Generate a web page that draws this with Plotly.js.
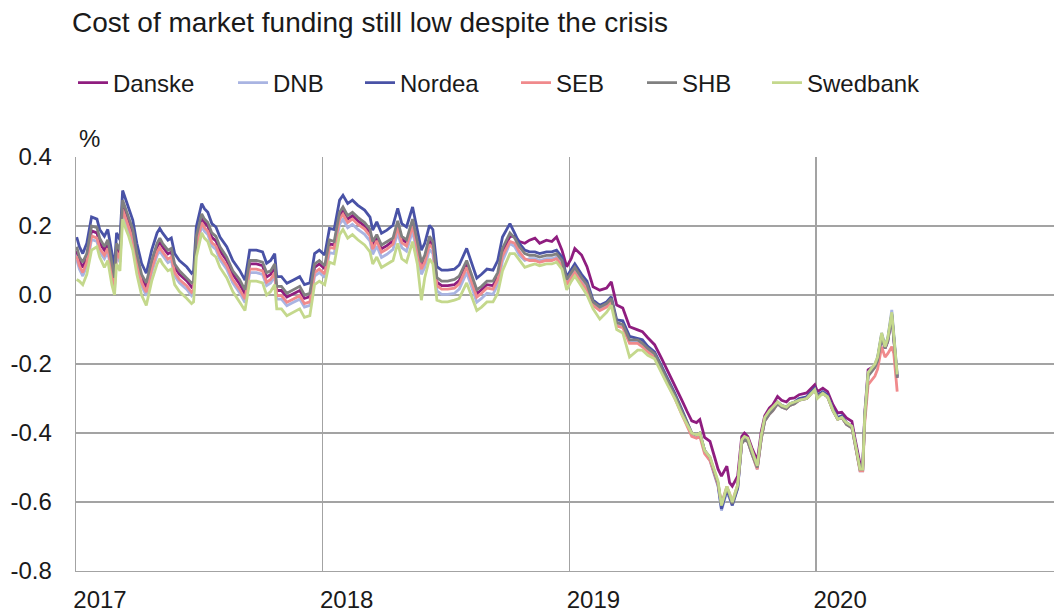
<!DOCTYPE html>
<html>
<head>
<meta charset="utf-8">
<script src="https://cdn.plot.ly/plotly-3.0.1.min.js"></script>
<style>html,body{margin:0;padding:0;background:#fff;}#chart{width:1054px;height:616px;}</style>
</head>
<body>
<div id="chart"></div>
<script>
// Dates as decimal years (read from the horizontal position of each point)
const t = [
 2017.003,2017.016,2017.028,2017.044,2017.065,2017.085,2017.097,2017.117,2017.130,2017.146,
 2017.158,2017.166,2017.179,2017.191,2017.203,2017.215,2017.231,2017.247,2017.267,2017.287,
 2017.308,2017.329,2017.341,2017.353,2017.373,2017.389,2017.401,2017.421,2017.450,2017.470,
 2017.478,2017.490,2017.511,2017.523,2017.535,2017.551,2017.568,2017.584,2017.612,2017.636,
 2017.664,2017.686,2017.706,2017.734,2017.758,2017.774,2017.790,2017.807,2017.815,2017.835,
 2017.855,2017.880,2017.908,2017.928,2017.949,2017.969,2017.989,2018.009,
 2018.029,2018.049,2018.071,2018.083,2018.103,2018.123,2018.143,2018.171,2018.192,2018.204,
 2018.220,2018.240,2018.261,2018.285,2018.305,2018.322,2018.342,2018.366,2018.386,2018.402,
 2018.414,2018.435,2018.448,2018.464,2018.484,2018.508,2018.536,2018.556,2018.585,2018.605,
 2018.625,2018.645,2018.666,2018.691,2018.711,2018.731,2018.759,2018.779,2018.799,2018.820,
 2018.840,2018.861,2018.881,2018.909,2018.929,2018.950,2018.970,2018.990,2019.010,2019.022,
 2019.051,2019.072,2019.096,2019.124,2019.152,2019.172,2019.193,2019.218,2019.246,
 2019.278,2019.298,2019.319,2019.347,2019.375,2019.399,2019.428,2019.457,2019.477,2019.497,
 2019.517,2019.529,2019.549,2019.570,2019.590,2019.603,2019.619,2019.639,2019.651,2019.663,2019.683,
 2019.700,2019.712,2019.724,2019.740,2019.752,2019.764,2019.780,2019.793,2019.813,2019.826,
 2019.846,2019.862,2019.882,2019.894,2019.914,2019.934,2019.963,2019.983,2019.996,2020.008,
 2020.028,2020.048,2020.069,2020.089,2020.105,2020.125,2020.145,2020.157,2020.169,2020.178,2020.190,
 2020.199,2020.211,2020.227,2020.239,2020.251,2020.267,2020.279,2020.291,2020.307,2020.315,2020.328
];

const danske = [
 .128,.10,.08,.11,.186,.18,.15,.13,.15,.08,
 .04,.14,.12,.263,.235,.215,.177,.11,.052,.023,
 .09,.14,.153,.14,.119,.125,.08,.06,.041,.023,
 .03,.157,.225,.21,.20,.167,.157,.128,.10,.06,
 .032,.003,.09,.09,.085,.052,.06,.08,.013,.013,
 -.006,.003,.013,-.01,-.005,.08,.09,.076,
 .148,.145,.23,.244,.22,.23,.215,.201,.181,.143,
 .167,.134,.143,.157,.206,.162,.152,.21,.143,.085,
 .105,.157,.145,.037,.027,.027,.03,.042,.09,.047,
 .004,.015,.03,.027,.055,.123,.17,.17,.155,.15,
 .159,.165,.15,.159,.155,.168,.13,.082,.107,.135,
 .116,.082,.024,.014,.02,.038,-.029,-.038,-.092,
 -.101,-.106,-.124,-.144,-.182,-.217,-.26,-.303,-.337,-.365,
 -.37,-.361,-.413,-.424,-.471,-.505,-.525,-.496,-.544,-.554,-.525,
 -.41,-.40,-.41,-.443,-.46,-.48,-.395,-.35,-.327,-.318,
 -.294,-.305,-.31,-.30,-.298,-.289,-.284,-.27,-.26,-.28,
 -.27,-.28,-.318,-.342,-.34,-.356,-.366,-.41,-.448,-.49,-.495,
 -.342,-.217,-.21,-.205,-.185,-.12,-.155,-.135,-.06,-.12,-.24
];

const dnb = [
 .103,.075,.055,.085,.161,.155,.125,.105,.125,.055,
 .015,.115,.095,.238,.21,.19,.152,.085,.027,-.002,
 .065,.115,.128,.115,.094,.10,.055,.035,.016,-.002,
 .005,.132,.20,.185,.175,.142,.132,.103,.075,.035,
 .007,-.022,.065,.065,.06,.027,.035,.055,-.012,-.012,
 -.031,-.022,-.012,-.035,-.03,.055,.065,.051,
 .123,.12,.205,.219,.195,.205,.19,.176,.156,.118,
 .142,.109,.118,.132,.181,.137,.127,.185,.118,.06,
 .08,.132,.12,.012,.002,.002,.005,.017,.065,.022,
 -.021,-.01,.005,.002,.03,.098,.15,.14,.115,.10,
 .105,.105,.10,.105,.105,.11,.09,.035,.055,.07,
 .04,.02,-.025,-.04,-.03,-.015,-.085,-.09,-.135,
 -.135,-.145,-.16,-.175,-.215,-.25,-.295,-.34,-.375,-.405,
 -.41,-.405,-.455,-.48,-.525,-.555,-.625,-.57,-.59,-.61,-.56,
 -.43,-.42,-.425,-.46,-.485,-.505,-.415,-.365,-.345,-.335,
 -.315,-.325,-.33,-.32,-.315,-.305,-.30,-.285,-.275,-.295,
 -.285,-.295,-.335,-.36,-.355,-.375,-.385,-.425,-.465,-.51,-.51,
 -.35,-.225,-.21,-.20,-.18,-.11,-.145,-.125,-.043,-.115,-.23
];

const nordea = [
 .168,.14,.12,.15,.226,.22,.19,.17,.19,.12,
 .08,.18,.16,.303,.275,.255,.217,.15,.092,.063,
 .13,.18,.193,.18,.159,.165,.12,.10,.081,.063,
 .07,.197,.265,.25,.24,.207,.197,.168,.14,.10,
 .072,.043,.13,.13,.125,.092,.10,.12,.053,.053,
 .034,.043,.053,.03,.035,.12,.13,.116,
 .193,.19,.275,.289,.265,.275,.26,.246,.226,.188,
 .212,.179,.188,.202,.251,.207,.197,.255,.188,.13,
 .15,.202,.19,.082,.072,.072,.075,.087,.135,.092,
 .049,.06,.075,.072,.10,.168,.207,.179,.15,.13,
 .125,.125,.12,.125,.125,.13,.11,.053,.075,.09,
 .06,.04,-.015,-.03,-.02,-.005,-.072,-.075,-.12,
 -.125,-.13,-.149,-.165,-.205,-.24,-.285,-.33,-.365,-.40,
 -.405,-.40,-.45,-.475,-.52,-.55,-.62,-.565,-.585,-.61,-.56,
 -.425,-.415,-.42,-.455,-.48,-.50,-.41,-.36,-.34,-.33,
 -.31,-.32,-.325,-.315,-.31,-.30,-.295,-.28,-.27,-.29,
 -.28,-.29,-.33,-.355,-.35,-.37,-.38,-.42,-.46,-.505,-.505,
 -.35,-.23,-.215,-.205,-.185,-.115,-.15,-.13,-.055,-.12,-.236
];

const seb = [
 .113,.085,.065,.095,.171,.165,.135,.115,.135,.065,
 .025,.125,.105,.248,.22,.20,.162,.095,.037,.008,
 .075,.125,.138,.125,.104,.11,.065,.045,.026,.008,
 .015,.142,.21,.195,.185,.152,.142,.113,.085,.045,
 .017,-.012,.075,.075,.07,.037,.045,.065,-.002,-.002,
 -.021,-.012,-.002,-.025,-.02,.065,.075,.061,
 .138,.135,.22,.234,.21,.22,.205,.191,.171,.133,
 .157,.124,.133,.147,.196,.152,.142,.20,.133,.075,
 .095,.147,.135,.027,.017,.017,.02,.032,.08,.037,
 -.006,.005,.02,.017,.045,.113,.155,.15,.125,.105,
 .10,.10,.095,.10,.10,.105,.085,.03,.05,.065,
 .035,.015,-.03,-.045,-.035,-.02,-.09,-.095,-.14,
 -.14,-.15,-.165,-.18,-.22,-.255,-.30,-.345,-.38,-.41,
 -.415,-.41,-.46,-.48,-.52,-.55,-.605,-.555,-.575,-.60,-.55,
 -.43,-.42,-.425,-.46,-.485,-.505,-.415,-.365,-.345,-.335,
 -.315,-.325,-.33,-.32,-.315,-.305,-.30,-.285,-.275,-.295,
 -.285,-.295,-.335,-.36,-.355,-.375,-.385,-.425,-.465,-.51,-.51,
 -.37,-.26,-.245,-.235,-.215,-.15,-.18,-.17,-.15,-.17,-.28
];

const shb = [
 .14,.11,.095,.12,.20,.195,.165,.14,.16,.09,
 .05,.15,.13,.275,.245,.225,.19,.12,.06,.035,
 .10,.15,.165,.15,.13,.135,.09,.07,.05,.035,
 .04,.17,.235,.22,.21,.18,.17,.14,.11,.07,
 .045,.015,.10,.10,.095,.065,.07,.09,.025,.025,
 .005,.015,.025,.00,.005,.09,.10,.085,
 .16,.155,.24,.255,.23,.24,.225,.21,.19,.155,
 .175,.145,.155,.165,.215,.17,.16,.22,.155,.095,
 .115,.17,.155,.05,.04,.04,.045,.055,.10,.06,
 .015,.025,.04,.04,.065,.135,.18,.165,.14,.12,
 .115,.115,.11,.115,.115,.12,.10,.045,.065,.08,
 .05,.03,-.02,-.035,-.025,-.01,-.08,-.085,-.13,
 -.13,-.14,-.155,-.17,-.21,-.245,-.29,-.335,-.37,-.40,
 -.405,-.40,-.45,-.47,-.515,-.545,-.61,-.56,-.58,-.605,-.555,
 -.43,-.42,-.425,-.46,-.48,-.50,-.415,-.365,-.345,-.335,
 -.315,-.325,-.33,-.32,-.315,-.305,-.30,-.285,-.275,-.295,
 -.285,-.295,-.335,-.36,-.355,-.375,-.385,-.425,-.465,-.505,-.505,
 -.355,-.235,-.22,-.21,-.19,-.12,-.155,-.135,-.06,-.125,-.24
];

const swedbank = [
 .045,.04,.03,.06,.13,.14,.11,.08,.10,.03,
 .00,.09,.07,.22,.19,.17,.13,.06,.00,-.03,
 .04,.09,.105,.09,.07,.075,.03,.01,-.01,-.025,
 -.02,.11,.18,.165,.155,.12,.11,.08,.05,.01,
 -.02,-.045,.04,.04,.035,.00,.01,.03,-.04,-.04,
 -.06,-.05,-.04,-.065,-.06,.03,.04,.03,
 .095,.09,.175,.19,.165,.175,.16,.145,.125,.09,
 .11,.08,.09,.10,.15,.105,.095,.155,.09,-.015,
 .05,.105,.09,-.015,-.02,-.02,-.015,-.01,.035,-.005,
 -.045,-.035,-.02,-.02,.005,.07,.12,.12,.10,.08,
 .085,.09,.085,.09,.09,.095,.075,.015,.04,.055,
 .025,.00,-.04,-.07,-.05,-.03,-.10,-.11,-.18,
 -.16,-.16,-.175,-.185,-.225,-.26,-.30,-.345,-.375,-.40,
 -.405,-.40,-.45,-.47,-.51,-.54,-.61,-.555,-.575,-.60,-.55,
 -.42,-.41,-.415,-.45,-.475,-.495,-.405,-.355,-.335,-.325,
 -.31,-.32,-.325,-.315,-.31,-.305,-.30,-.285,-.275,-.30,
 -.285,-.295,-.335,-.36,-.355,-.37,-.38,-.42,-.46,-.505,-.505,
 -.35,-.225,-.21,-.20,-.18,-.11,-.15,-.125,-.05,-.115,-.23
];

const seriesNames = ['Danske','DNB','Nordea','SEB','SHB','Swedbank'];
const seriesValues = [danske, dnb, nordea, seb, shb, swedbank];
const yearTicks = ['2017-01-01','2018-01-01','2019-01-01','2020-01-01'];
const yearLabels = ['2017','2018','2019','2020'];
const yTickVals = [0.4,0.2,0,-0.2,-0.4,-0.6,-0.8];
const yTickText = ['0.4','0.2','0.0','-0.2','-0.4','-0.6','-0.8'];

// ---- presentation ----
const colors = ['#8f1d7f','#a9b4e2','#4952a6','#f08a8c','#808080','#c4d88c'];
const legendLineStart = [78, 238, 365, 521, 647, 772];

function toDate(v){
  const y = Math.floor(v);
  const s = Date.UTC(y,0,1), e = Date.UTC(y+1,0,1);
  return new Date(s + (v - y) * (e - s)).toISOString().slice(0,10);
}
const dates = t.map(toDate);

const L = 76, W = 978, T = 157, H = 414;
const FONT = '"Liberation Sans", Arial, Helvetica, sans-serif';
const TXT = '#1a1a1a';
const GRID = '#a3a3a3';

const traces = seriesNames.map((name, i) => ({
  type:'scatter', mode:'lines', name:name,
  x:dates, y:seriesValues[i],
  line:{color:colors[i], width:2.8},
  legend: i === 0 ? 'legend' : 'legend' + (i + 1),
  hoverinfo:'skip'
}));

const layout = {
  width:1054, height:616,
  margin:{l:L, r:0, t:T, b:616 - T - H, pad:0},
  paper_bgcolor:'#ffffff', plot_bgcolor:'#ffffff',
  font:{family:FONT, size:24, color:TXT},
  title:{text:'Cost of market funding still low despite the crisis',
         font:{family:FONT, size:28, color:TXT},
         xref:'container', yref:'container', x:72/1054, xanchor:'left',
         y:1 - 22/616, yanchor:'middle'},
  xaxis:{type:'date', range:['2017-01-01','2020-12-18'],
         tickmode:'array', tickvals:yearTicks, ticktext:yearLabels,
         ticks:'', showgrid:true, gridcolor:GRID, gridwidth:1.3,
         showline:true, linecolor:GRID, linewidth:1.3, zeroline:false,
         ticklabelshift:24, ticklabelstandoff:7,
         tickfont:{family:FONT, size:24, color:TXT}, fixedrange:true},
  yaxis:{range:[-0.8,0.4], tickmode:'array', tickvals:yTickVals, ticktext:yTickText,
         ticks:'', showgrid:true, gridcolor:GRID, gridwidth:1.3,
         showline:true, linecolor:GRID, linewidth:1.3, zeroline:false,
         ticklabelstandoff:18,
         tickfont:{family:FONT, size:24, color:TXT}, fixedrange:true},
  showlegend:true,
  annotations:[{text:'%', xref:'paper', yref:'paper', x:1/W, y:1 + (T - 138.5)/H,
                xanchor:'left', yanchor:'middle', showarrow:false,
                font:{family:FONT, size:24, color:TXT}}]
};
seriesNames.forEach((n, i) => {
  const key = i === 0 ? 'legend' : 'legend' + (i + 1);
  layout[key] = {
    orientation:'h', x:(legendLineStart[i] - 5 - L)/W, y:1 + (T - 83)/H,
    xanchor:'left', yanchor:'middle', bgcolor:'rgba(0,0,0,0)', borderwidth:0,
    font:{family:FONT, size:24, color:TXT}, itemclick:false, itemdoubleclick:false
  };
});

Plotly.newPlot('chart', traces, layout, {displayModeBar:false, staticPlot:true});
</script>
</body>
</html>
